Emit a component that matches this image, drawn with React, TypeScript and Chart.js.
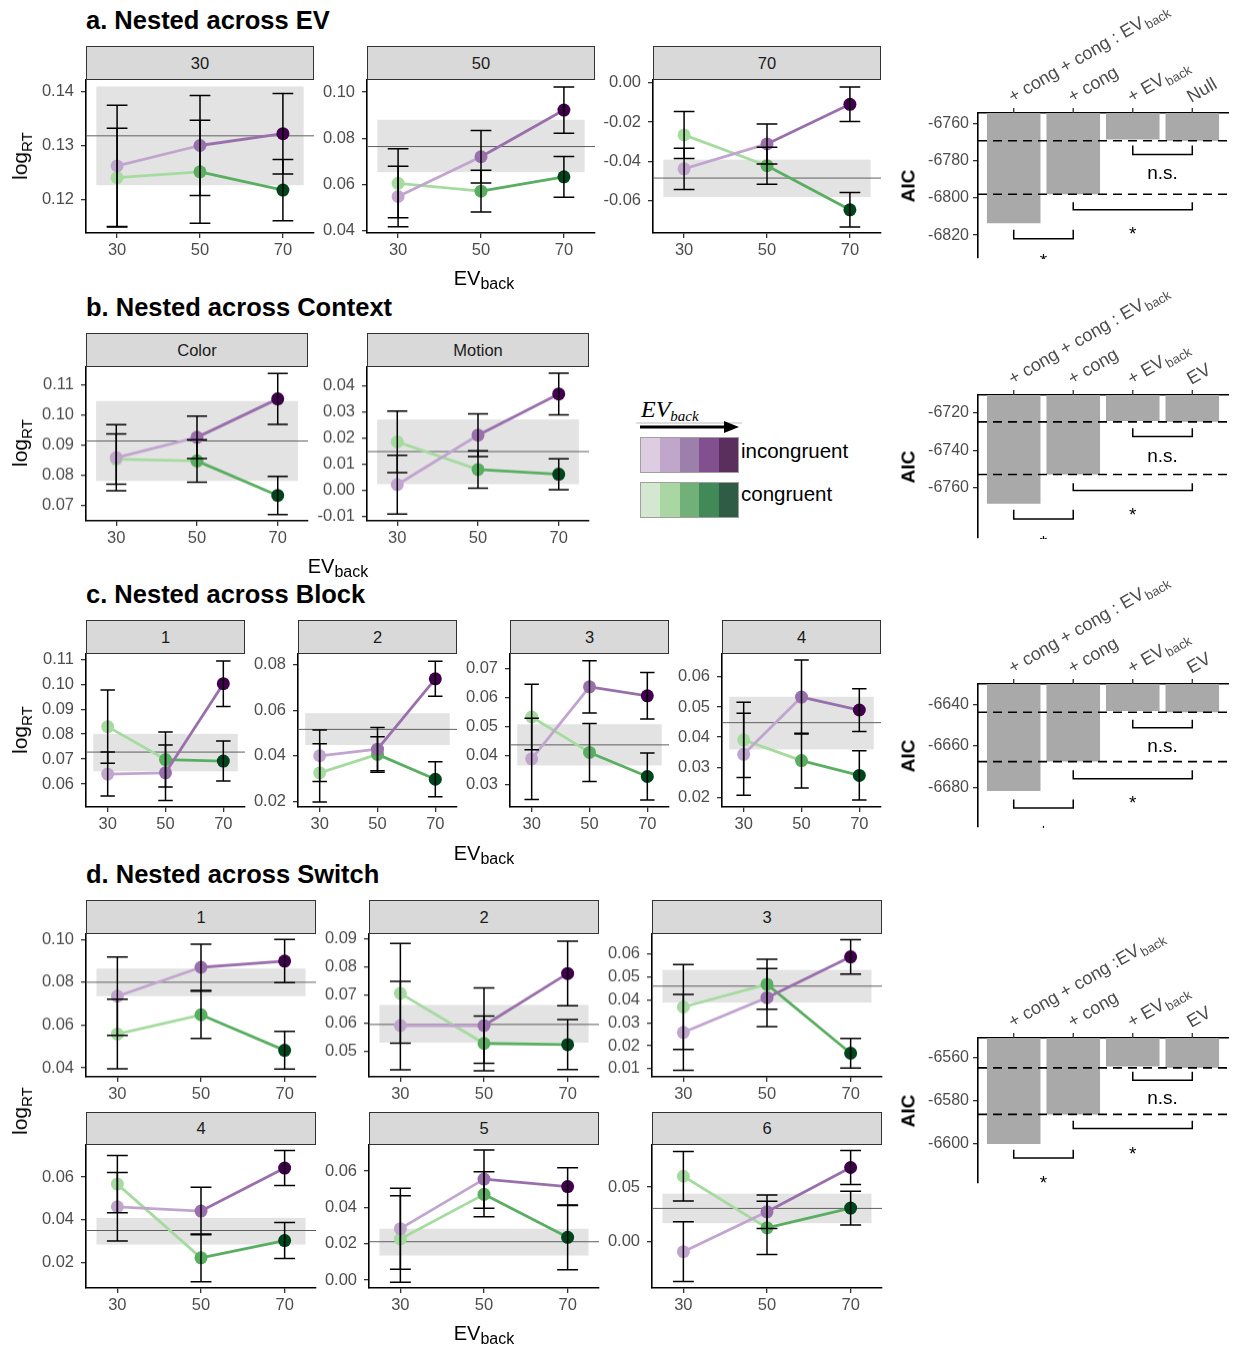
import React, { useEffect, useRef } from 'react';
import { Chart, registerables } from 'chart.js';

Chart.register(...registerables);

const FONT = '"Liberation Sans", Arial, Helvetica, sans-serif';
const SERIF = '"Liberation Serif", "Times New Roman", serif';
Chart.defaults.font.family = FONT;

// ---------------- data ----------------
const evBackLevels = [30, 50, 70];
const refBandX = [25, 75];

// a. Nested across EV
const evFacetLabels = ['30', '50', '70'];
const evIncong = [[0.1262, 0.1300, 0.1322], [0.0548, 0.0720, 0.0922], [-0.0439, -0.0312, -0.0110]];
const evIncongSE = [[0.0113, 0.0093, 0.0075], [0.0131, 0.0114, 0.0100], [0.0105, 0.0102, 0.0088]];
const evCong = [[0.1240, 0.1251, 0.1217], [0.0605, 0.0571, 0.0633], [-0.0266, -0.0423, -0.0648]];
const evCongSE = [[0.0092, 0.0096, 0.0057], [0.0149, 0.0090, 0.0088], [0.0120, 0.0094, 0.0088]];
const evRefMean = [0.1318, 0.0764, -0.0486];
const evRefLow = [0.1226, 0.0653, -0.0583];
const evRefHigh = [0.1410, 0.0880, -0.0392];
const evYTicks = [[0.12, 0.13, 0.14], [0.04, 0.06, 0.08, 0.10], [-0.06, -0.04, -0.02, 0.0]];
const evYLimits = [[0.1137, 0.1422], [0.0390, 0.1052], [-0.0766, 0.0014]];

// b. Nested across Context
const contextFacetLabels = ['Color', 'Motion'];
const contextIncong = [[0.0858, 0.0925, 0.1052], [0.0022, 0.0212, 0.0370]];
const contextIncongSE = [[0.0109, 0.0070, 0.0084], [0.0113, 0.0082, 0.0080]];
const contextCong = [[0.0853, 0.0847, 0.0733], [0.0186, 0.0080, 0.0062]];
const contextCongSE = [[0.0083, 0.0070, 0.0063], [0.0118, 0.0072, 0.0059]];
const contextRefMean = [0.0913, 0.0149];
const contextRefLow = [0.0781, 0.0024];
const contextRefHigh = [0.1045, 0.0272];
const contextYTicks = [[0.07, 0.08, 0.09, 0.10, 0.11], [-0.01, 0.0, 0.01, 0.02, 0.03, 0.04]];
const contextYLimits = [[0.0649, 0.1157], [-0.0117, 0.0473]];

// c. Nested across Block
const blockFacetLabels = ['1', '2', '3', '4'];
const blockIncong = [[0.0640, 0.0645, 0.1002], [0.0400, 0.0429, 0.0738], [0.0389, 0.0637, 0.0606], [0.0343, 0.0533, 0.0490]];
const blockIncongSE = [[0.0088, 0.0111, 0.0091], [0.0113, 0.0095, 0.0077], [0.0140, 0.0090, 0.0080], [0.0136, 0.0123, 0.0071]];
const blockCong = [[0.0830, 0.0698, 0.0692], [0.0325, 0.0406, 0.0297], [0.0533, 0.0411, 0.0328], [0.0391, 0.0322, 0.0273]];
const blockCongSE = [[0.0147, 0.0110, 0.0080], [0.0128, 0.0078, 0.0077], [0.0113, 0.0100, 0.0081], [0.0125, 0.0091, 0.0082]];
const blockRefMean = [0.0728, 0.0516, 0.0437, 0.0448];
const blockRefLow = [0.0651, 0.0447, 0.0366, 0.0359];
const blockRefHigh = [0.0801, 0.0587, 0.0508, 0.0534];
const blockYTicks = [[0.06, 0.07, 0.08, 0.09, 0.10, 0.11], [0.02, 0.04, 0.06, 0.08], [0.03, 0.04, 0.05, 0.06, 0.07], [0.02, 0.03, 0.04, 0.05, 0.06]];
const blockYLimits = [[0.0508, 0.1121], [0.0175, 0.0847], [0.0223, 0.0750], [0.0168, 0.0676]];

// d. Nested across Switch
const switchFacetLabels = ['1', '2', '3', '4', '5', '6'];
const switchIncong = [[0.0735, 0.0870, 0.0899], [0.0592, 0.0592, 0.0776], [0.0258, 0.0410, 0.0588], [0.0461, 0.0441, 0.0642], [0.0283, 0.0556, 0.0515], [-0.0092, 0.0273, 0.0678]];
const switchIncongSE = [[0.0183, 0.0108, 0.0101], [0.0156, 0.0133, 0.0114], [0.0166, 0.0127, 0.0075], [0.0160, 0.0111, 0.0082], [0.0223, 0.0160, 0.0104], [0.0273, 0.0153, 0.0155]];
const switchCong = [[0.0558, 0.0648, 0.0482], [0.0706, 0.0529, 0.0525], [0.0369, 0.0468, 0.0167], [0.0567, 0.0222, 0.0303], [0.0226, 0.0472, 0.0235], [0.0598, 0.0126, 0.0307]];
const switchCongSE = [[0.0163, 0.0110, 0.0088], [0.0176, 0.0097, 0.0088], [0.0185, 0.0109, 0.0065], [0.0134, 0.0112, 0.0084], [0.0238, 0.0124, 0.0178], [0.0226, 0.0243, 0.0155]];
const switchRefMean = [0.0800, 0.0596, 0.0460, 0.0350, 0.0211, 0.0304];
const switchRefLow = [0.0735, 0.0532, 0.0388, 0.0284, 0.0135, 0.0169];
const switchRefHigh = [0.0864, 0.0665, 0.0531, 0.0409, 0.0283, 0.0439];
const switchYTicks = [[0.04, 0.06, 0.08, 0.10], [0.05, 0.06, 0.07, 0.08, 0.09], [0.01, 0.02, 0.03, 0.04, 0.05, 0.06], [0.02, 0.04, 0.06], [0.0, 0.02, 0.04, 0.06], [0.0, 0.05]];
const switchYLimits = [[0.0358, 0.1025], [0.0411, 0.0915], [0.0064, 0.0687], [0.0081, 0.0750], [-0.0044, 0.0744], [-0.0424, 0.0884]];

// AIC model comparison
const aicModelIndex = [0, 1, 2, 3];
const aicLabelsEV: [string, string][] = [['+ cong + cong : EV', 'back'], ['+ cong', ''], ['+ EV', 'back'], ['Null', '']];
const aicLabelsNested: [string, string][] = [['+ cong + cong : EV', 'back'], ['+ cong', ''], ['+ EV', 'back'], ['EV', '']];
const aicLabelsSwitch: [string, string][] = [['+ cong + cong :EV', 'back'], ['+ cong', ''], ['+ EV', 'back'], ['EV', '']];
const aicEV = [-6813.6, -6798.0, -6768.6, -6769.2];
const aicContext = [-6768.5, -6752.9, -6724.5, -6724.9];
const aicBlock = [-6681.6, -6667.5, -6643.1, -6643.7];
const aicSwitch = [-6600.0, -6586.3, -6564.2, -6564.8];
const aicTicksEV = [-6820, -6800, -6780, -6760];
const aicTicksContext = [-6760, -6740, -6720];
const aicTicksBlock = [-6680, -6660, -6640];
const aicTicksSwitch = [-6600, -6580, -6560];
const aicLimitsEV = [-6832.3, -6754.3];
const aicLimitsContext = [-6786.7, -6710.6];
const aicLimitsBlock = [-6699.0, -6630.1];
const aicLimitsSwitch = [-6618.0, -6551.0];
// [from, to, tip value, bar value, label, label value]
type Bracket = [number, number, number, number, string, number];
const aicBracketsEV: Bracket[] = [[2, 3, -6771.8, -6776.6, 'n.s.', -6786.8], [1, 3, -6802.3, -6806.4, '*', -6816.6], [0, 1, -6817.1, -6822.0, '*', -6831.4]];
const aicBracketsContext: Bracket[] = [[2, 3, -6728.3, -6732.7, 'n.s.', -6743.4], [1, 3, -6757.5, -6761.4, '*', -6771.7], [0, 1, -6771.7, -6776.6, '*', -6786.7]];
const aicBracketsBlock: Bracket[] = [[2, 3, -6647.3, -6651.2, 'n.s.', -6660.6], [1, 3, -6671.6, -6675.8, '*', -6685.2], [0, 1, -6685.8, -6689.9, '*', -6699.4]];
const aicBracketsSwitch: Bracket[] = [[2, 3, -6566.6, -6570.5, 'n.s.', -6579.1], [1, 3, -6589.2, -6592.8, '*', -6602.2], [0, 1, -6602.6, -6606.5, '*', -6615.7]];

// legend shades
const legendIncong = ['#ddcce2', '#c1a6cc', '#9c80ab', '#82508f', '#5a2e5d'];
const legendCong = ['#d4e7d0', '#a9d6a2', '#72b07a', '#418a57', '#2e5c44'];

// ---------------- styling ----------------
const INC_POINT = ['#c2a5cf', '#9970ab', '#40004b'];
const INC_SEG = ['#c2a5cf', '#9970ab'];
const CON_POINT = ['#a6dba0', '#5aae61', '#00441b'];
const CON_SEG = ['#a6dba0', '#5aae61'];
const CAP = 2.5;
const PAD_T = 22, PAD_R = 4, Y_AXIS_W = 64, X_AXIS_H = 34;
const TICK_COLOR = '#4d4d4d';

type FacetSpec = {
  label: string; inc: number[]; incSE: number[]; con: number[]; conSE: number[];
  mean: number; low: number; high: number; ticks: number[]; limits: number[];
};

function makeSpecs(labels: string[], inc: number[][], incSE: number[][], con: number[][], conSE: number[][],
  mean: number[], low: number[], high: number[], ticks: number[][], limits: number[][]): FacetSpec[] {
  return labels.map((label, i) => ({
    label, inc: inc[i], incSE: incSE[i], con: con[i], conSE: conSE[i],
    mean: mean[i], low: low[i], high: high[i], ticks: ticks[i], limits: limits[i],
  }));
}

const evSpecs = makeSpecs(evFacetLabels, evIncong, evIncongSE, evCong, evCongSE, evRefMean, evRefLow, evRefHigh, evYTicks, evYLimits);
const contextSpecs = makeSpecs(contextFacetLabels, contextIncong, contextIncongSE, contextCong, contextCongSE, contextRefMean, contextRefLow, contextRefHigh, contextYTicks, contextYLimits);
const blockSpecs = makeSpecs(blockFacetLabels, blockIncong, blockIncongSE, blockCong, blockCongSE, blockRefMean, blockRefLow, blockRefHigh, blockYTicks, blockYLimits);
const switchSpecs = makeSpecs(switchFacetLabels, switchIncong, switchIncongSE, switchCong, switchCongSE, switchRefMean, switchRefLow, switchRefHigh, switchYTicks, switchYLimits);

function facetConfig(s: FacetSpec): any {
  const pts = (vals: number[]) => vals.map((v, i) => ({ x: evBackLevels[i], y: v }));
  const decor = {
    id: 'facetDecor',
    beforeDatasetsDraw(chart: any) {
      const { ctx, chartArea: a, scales: { x, y } } = chart;
      ctx.save();
      ctx.fillStyle = '#e3e3e3';
      const x0 = x.getPixelForValue(refBandX[0]);
      const x1 = x.getPixelForValue(refBandX[1]);
      const yh = y.getPixelForValue(s.high);
      const yl = y.getPixelForValue(s.low);
      ctx.fillRect(x0, yh, x1 - x0, yl - yh);
      const ym = y.getPixelForValue(s.mean);
      ctx.strokeStyle = '#5e5e5e';
      ctx.lineWidth = 1;
      ctx.beginPath();
      ctx.moveTo(a.left, ym);
      ctx.lineTo(a.right, ym);
      ctx.stroke();
      ctx.restore();
    },
    afterDatasetsDraw(chart: any) {
      const { ctx, scales: { x, y } } = chart;
      ctx.save();
      ctx.strokeStyle = '#000';
      ctx.lineWidth = 1.5;
      const groups: [number[], number[]][] = [[s.con, s.conSE], [s.inc, s.incSE]];
      for (const [m, se] of groups) {
        m.forEach((v, i) => {
          const xc = evBackLevels[i];
          const px = x.getPixelForValue(xc);
          const pl = x.getPixelForValue(xc - CAP);
          const pr = x.getPixelForValue(xc + CAP);
          const yt = y.getPixelForValue(v + se[i]);
          const yb = y.getPixelForValue(v - se[i]);
          ctx.beginPath();
          ctx.moveTo(px, yt); ctx.lineTo(px, yb);
          ctx.moveTo(pl, yt); ctx.lineTo(pr, yt);
          ctx.moveTo(pl, yb); ctx.lineTo(pr, yb);
          ctx.stroke();
        });
      }
      ctx.restore();
    },
  };
  const lineDs = (vals: number[], seg: string[], pointCols: string[]) => ({
    data: pts(vals),
    borderWidth: 2.8,
    borderColor: seg[1],
    segment: { borderColor: (c: any) => seg[c.p0DataIndex] },
    pointRadius: 6.5,
    pointHoverRadius: 6.5,
    pointBorderWidth: 0,
    pointBackgroundColor: pointCols,
    pointBorderColor: pointCols,
    tension: 0,
    fill: false,
  });
  return {
    type: 'line',
    data: { datasets: [lineDs(s.inc, INC_SEG, INC_POINT), lineDs(s.con, CON_SEG, CON_POINT)] },
    options: {
      responsive: false,
      animation: false,
      devicePixelRatio: 1,
      events: [],
      layout: { autoPadding: false, padding: { left: 0, top: PAD_T, right: PAD_R, bottom: 0 } },
      plugins: { legend: { display: false }, tooltip: { enabled: false }, title: { display: false } },
      scales: {
        x: {
          type: 'linear', min: 22.5, max: 77.5, bounds: 'data',
          afterBuildTicks: (sc: any) => { sc.ticks = evBackLevels.map((v) => ({ value: v })); },
          afterFit: (sc: any) => { sc.height = X_AXIS_H; },
          ticks: { font: { family: FONT, size: 16.5 }, color: TICK_COLOR, padding: 3, maxRotation: 0, autoSkip: false, callback: (v: any) => String(v) },
          grid: { display: true, drawOnChartArea: false, drawTicks: true, tickLength: 5, color: '#333', lineWidth: 1.3 },
          border: { display: true, color: '#000', width: 1.6 },
        },
        y: {
          type: 'linear', min: s.limits[0], max: s.limits[1], bounds: 'data',
          afterBuildTicks: (sc: any) => { sc.ticks = s.ticks.map((v) => ({ value: v })); },
          afterFit: (sc: any) => { sc.width = Y_AXIS_W; },
          ticks: { font: { family: FONT, size: 16.5 }, color: TICK_COLOR, padding: 7, autoSkip: false, callback: (v: any) => Number(v).toFixed(2) },
          grid: { display: true, drawOnChartArea: false, drawTicks: true, tickLength: 5, color: '#333', lineWidth: 1.3 },
          border: { display: true, color: '#000', width: 1.6 },
        },
      },
    },
    plugins: [decor],
  };
}

function Facet({ spec, left, top, width, height, stripTop }: { spec: FacetSpec; left: number; top: number; width: number; height: number; stripTop: number }) {
  const ref = useRef<HTMLCanvasElement>(null);
  const cw = width + Y_AXIS_W + PAD_R;
  const ch = height + PAD_T + X_AXIS_H;
  useEffect(() => {
    const chart = new Chart(ref.current as HTMLCanvasElement, facetConfig(spec));
    return () => chart.destroy();
  }, []);
  return (
    <>
      <canvas ref={ref} width={cw} height={ch}
        style={{ position: 'absolute', left: left - Y_AXIS_W, top: top - PAD_T, width: cw, height: ch }} />
      <div style={{
        position: 'absolute', left, top: stripTop, width, height: top - stripTop, boxSizing: 'border-box',
        border: '1.5px solid #333', background: '#d9d9d9', display: 'flex', alignItems: 'center',
        justifyContent: 'center', font: `16.5px ${FONT}`, color: '#1a1a1a',
      }}>{spec.label}</div>
    </>
  );
}

type AicSpec = { labels: [string, string][]; values: number[]; ticks: number[]; limits: number[]; brackets: Bracket[] };
const AIC_CL = 880, AIC_CR = 1233, AIC_LEFT = 978, AIC_RIGHT = 1228, AIC_PT = 118, AIC_PB = 18;

function aicConfig(s: AicSpec): any {
  const decor = {
    id: 'aicDecor',
    afterDatasetsDraw(chart: any) {
      const { ctx, chartArea: a, scales: { x, y } } = chart;
      ctx.save();
      ctx.strokeStyle = '#000';
      ctx.lineWidth = 1.6;
      ctx.setLineDash([9, 6]);
      for (const v of [s.values[1], s.values[3]]) {
        const py = y.getPixelForValue(v);
        ctx.beginPath(); ctx.moveTo(a.left, py); ctx.lineTo(a.right, py); ctx.stroke();
      }
      ctx.setLineDash([]);
      ctx.beginPath();
      ctx.rect(a.left, a.top, a.right - a.left, a.bottom - a.top + 1);
      ctx.clip();
      ctx.lineWidth = 1.5;
      for (const [i0, i1, tip, bar, lab, labV] of s.brackets) {
        const x0 = x.getPixelForValue(i0);
        const x1 = x.getPixelForValue(i1);
        const yt = y.getPixelForValue(tip);
        const yb = y.getPixelForValue(bar);
        ctx.beginPath();
        ctx.moveTo(x0, yt); ctx.lineTo(x0, yb); ctx.lineTo(x1, yb); ctx.lineTo(x1, yt);
        ctx.stroke();
        const size = 19;
        ctx.font = `${size}px ${FONT}`;
        ctx.fillStyle = '#000';
        ctx.textAlign = 'center';
        ctx.textBaseline = 'alphabetic';
        const ly = y.getPixelForValue(labV);
        const off = lab === '*' ? 0.575 : 0.27;
        ctx.fillText(lab, (x0 + x1) / 2, ly + off * size);
      }
      ctx.restore();

      ctx.save();
      ctx.strokeStyle = '#333';
      ctx.lineWidth = 1.3;
      s.labels.forEach(([main, sub], i) => {
        const px = x.getPixelForValue(aicModelIndex[i]);
        ctx.beginPath(); ctx.moveTo(px, a.top); ctx.lineTo(px, a.top - 5); ctx.stroke();
        ctx.save();
        ctx.translate(px - 1, a.top - 10);
        ctx.rotate(-Math.PI / 6);
        ctx.fillStyle = TICK_COLOR;
        ctx.textAlign = 'left';
        ctx.textBaseline = 'alphabetic';
        ctx.font = `18px ${FONT}`;
        ctx.fillText(main, 0, 0);
        if (sub) {
          const w = ctx.measureText(main).width;
          ctx.font = `13px ${FONT}`;
          ctx.fillText(sub, w + 1, 4);
        }
        ctx.restore();
      });
      ctx.restore();
    },
  };
  return {
    type: 'bar',
    data: {
      datasets: [{
        data: s.values.map((v, i) => ({ x: aicModelIndex[i], y: v })),
        base: s.limits[1],
        backgroundColor: '#a9a9a9',
        borderWidth: 0,
        barPercentage: 0.9,
        categoryPercentage: 1,
      }],
    },
    options: {
      responsive: false,
      animation: false,
      devicePixelRatio: 1,
      events: [],
      layout: { autoPadding: false, padding: { left: 0, top: AIC_PT, right: AIC_CR - AIC_RIGHT, bottom: AIC_PB } },
      plugins: { legend: { display: false }, tooltip: { enabled: false } },
      scales: {
        x: {
          type: 'linear', position: 'top', min: -0.6, max: 3.6, offset: false, bounds: 'data',
          afterBuildTicks: (sc: any) => { sc.ticks = aicModelIndex.map((v) => ({ value: v })); },
          grid: { display: false, offset: false },
          ticks: { display: false },
          border: { display: true, color: '#000', width: 1.6 },
          afterFit: (sc: any) => { sc.height = 0; },
        },
        y: {
          type: 'linear', min: s.limits[0], max: s.limits[1], bounds: 'data',
          afterBuildTicks: (sc: any) => { sc.ticks = s.ticks.map((v) => ({ value: v })); },
          afterFit: (sc: any) => { sc.width = AIC_LEFT - AIC_CL; },
          ticks: { font: { family: FONT, size: 16 }, color: TICK_COLOR, padding: 4, autoSkip: false, callback: (v: any) => String(v) },
          grid: { display: true, drawOnChartArea: false, drawTicks: true, tickLength: 5, color: '#333', lineWidth: 1.3 },
          border: { display: true, color: '#000', width: 1.6 },
        },
      },
    },
    plugins: [decor],
  };
}

function AicPanel({ spec, top, bottom }: { spec: AicSpec; top: number; bottom: number }) {
  const ref = useRef<HTMLCanvasElement>(null);
  const cw = AIC_CR - AIC_CL;
  const ch = Math.round(bottom - top) + AIC_PT + AIC_PB;
  useEffect(() => {
    const chart = new Chart(ref.current as HTMLCanvasElement, aicConfig(spec));
    return () => chart.destroy();
  }, []);
  return (
    <>
      <canvas ref={ref} width={cw} height={ch}
        style={{ position: 'absolute', left: AIC_CL, top: top - AIC_PT, width: cw, height: ch }} />
      <div style={{
        position: 'absolute', left: 908, top: (top + bottom) / 2, transform: 'translate(-50%, -50%) rotate(-90deg)',
        font: `bold 19px ${FONT}`, color: '#000', whiteSpace: 'nowrap', lineHeight: '19px',
      }}>AIC</div>
    </>
  );
}

function Title({ x, baseline, text }: { x: number; baseline: number; text: string }) {
  const size = 25.5;
  return (
    <div style={{
      position: 'absolute', left: x, top: baseline - 0.8465 * size, font: `bold ${size}px ${FONT}`,
      lineHeight: `${size}px`, whiteSpace: 'nowrap', color: '#000',
    }}>{text}</div>
  );
}

function XTitle({ cx, baseline }: { cx: number; baseline: number }) {
  const size = 20;
  return (
    <div style={{
      position: 'absolute', left: cx, top: baseline - 0.8465 * size, transform: 'translateX(-50%)',
      font: `${size}px ${FONT}`, lineHeight: `${size}px`, whiteSpace: 'nowrap', color: '#000',
    }}>EV<span style={{ fontSize: 16, position: 'relative', top: 4 }}>back</span></div>
  );
}

function YTitle({ cx, cy }: { cx: number; cy: number }) {
  return (
    <div style={{
      position: 'absolute', left: cx, top: cy, transform: 'translate(-50%, -50%) rotate(-90deg)',
      font: `21px ${FONT}`, lineHeight: '24px', whiteSpace: 'nowrap', color: '#000',
    }}>log<span style={{ fontSize: 15, position: 'relative', top: 5 }}>RT</span></div>
  );
}

function Legend() {
  const box = (cols: string[], top: number) => (
    <div style={{
      position: 'absolute', left: 640, top, width: 99, height: 36, boxSizing: 'border-box',
      border: '1px solid #a0a0a0', display: 'flex',
    }}>
      {cols.map((c, i) => <div key={i} style={{ flex: 1, background: c }} />)}
    </div>
  );
  return (
    <>
      <div style={{
        position: 'absolute', left: 641, top: 417 - 0.84 * 24, font: `italic 24px ${SERIF}`,
        lineHeight: '24px', whiteSpace: 'nowrap', color: '#000',
      }}>EV<span style={{ fontSize: 15, position: 'relative', top: 4 }}>back</span></div>
      <svg style={{ position: 'absolute', left: 634, top: 418 }} width={110} height={18}>
        <line x1={2} y1={5} x2={108} y2={5} stroke="#bdbdbd" strokeWidth={1} />
        <line x1={6} y1={9} x2={93} y2={9} stroke="#000" strokeWidth={3} />
        <polygon points="90,3 105,9 90,15" fill="#000" />
      </svg>
      {box(legendIncong, 437)}
      {box(legendCong, 482)}
      <div style={{ position: 'absolute', left: 741, top: 458 - 0.8465 * 20.5, font: `20.5px ${FONT}`, lineHeight: '20.5px', whiteSpace: 'nowrap' }}>incongruent</div>
      <div style={{ position: 'absolute', left: 741, top: 501 - 0.8465 * 20.5, font: `20.5px ${FONT}`, lineHeight: '20.5px', whiteSpace: 'nowrap' }}>congruent</div>
    </>
  );
}

const aicSpecEV: AicSpec = { labels: aicLabelsEV, values: aicEV, ticks: aicTicksEV, limits: aicLimitsEV, brackets: aicBracketsEV };
const aicSpecContext: AicSpec = { labels: aicLabelsNested, values: aicContext, ticks: aicTicksContext, limits: aicLimitsContext, brackets: aicBracketsContext };
const aicSpecBlock: AicSpec = { labels: aicLabelsNested, values: aicBlock, ticks: aicTicksBlock, limits: aicLimitsBlock, brackets: aicBracketsBlock };
const aicSpecSwitch: AicSpec = { labels: aicLabelsSwitch, values: aicSwitch, ticks: aicTicksSwitch, limits: aicLimitsSwitch, brackets: aicBracketsSwitch };

export default function App() {
  const aLeft = [86, 367, 653];
  const bLeft = [86, 367];
  const cLeft = [86, 298, 510, 722];
  const dLeft = [86, 369, 652];
  return (
    <div style={{
      position: 'absolute', left: 0, top: 0, width: 1233, height: 1346, background: '#fff',
      overflow: 'hidden', fontFamily: FONT,
    }}>
      <Title x={86} baseline={30} text="a. Nested across EV" />
      {evSpecs.map((s, i) => (
        <Facet key={'a' + i} spec={s} left={aLeft[i]} top={80} width={228} height={153} stripTop={46} />
      ))}
      <YTitle cx={21} cy={156} />
      <XTitle cx={484} baseline={285} />
      <AicPanel spec={aicSpecEV} top={113} bottom={258} />

      <Title x={86} baseline={317} text="b. Nested across Context" />
      {contextSpecs.map((s, i) => (
        <Facet key={'b' + i} spec={s} left={bLeft[i]} top={367} width={222} height={153.5} stripTop={333} />
      ))}
      <YTitle cx={21} cy={443} />
      <XTitle cx={338} baseline={573} />
      <Legend />
      <AicPanel spec={aicSpecContext} top={395} bottom={538} />

      <Title x={86} baseline={604} text="c. Nested across Block" />
      {blockSpecs.map((s, i) => (
        <Facet key={'c' + i} spec={s} left={cLeft[i]} top={654} width={159} height={153} stripTop={620} />
      ))}
      <YTitle cx={21} cy={730} />
      <XTitle cx={484} baseline={860} />
      <AicPanel spec={aicSpecBlock} top={684} bottom={827} />

      <Title x={86} baseline={884} text="d. Nested across Switch" />
      {switchSpecs.slice(0, 3).map((s, i) => (
        <Facet key={'d' + i} spec={s} left={dLeft[i]} top={934} width={230} height={142.5} stripTop={900} />
      ))}
      {switchSpecs.slice(3).map((s, i) => (
        <Facet key={'e' + i} spec={s} left={dLeft[i]} top={1145} width={230} height={143} stripTop={1112} />
      ))}
      <YTitle cx={21} cy={1111} />
      <XTitle cx={484} baseline={1339.5} />
      <AicPanel spec={aicSpecSwitch} top={1038} bottom={1183} />
    </div>
  );
}
